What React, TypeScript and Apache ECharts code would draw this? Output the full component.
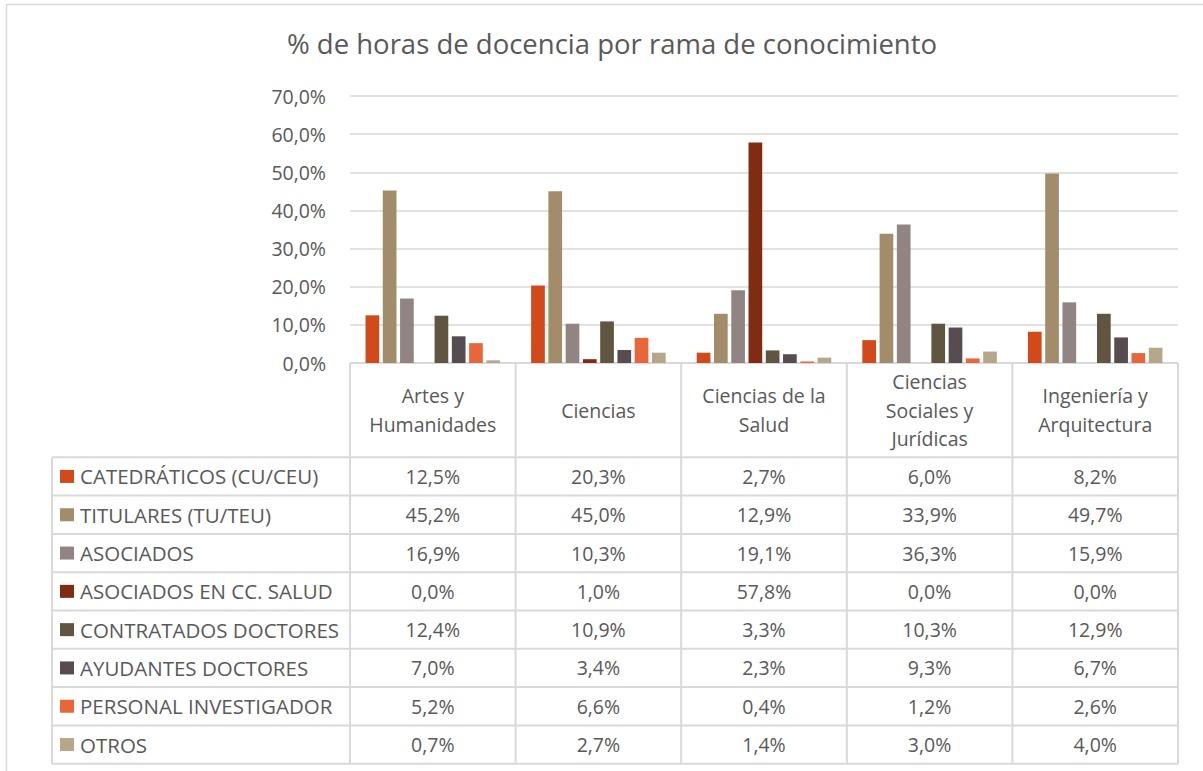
import React, { useEffect, useRef } from "react";
import * as echarts from "echarts";

const categories = [
  "Artes y\nHumanidades",
  "Ciencias",
  "Ciencias de la\nSalud",
  "Ciencias\nSociales y\nJurídicas",
  "Ingeniería y\nArquitectura",
];

const seriesNames = [
  "CATEDRÁTICOS (CU/CEU)",
  "TITULARES (TU/TEU)",
  "ASOCIADOS",
  "ASOCIADOS EN CC. SALUD",
  "CONTRATADOS DOCTORES",
  "AYUDANTES DOCTORES",
  "PERSONAL INVESTIGADOR",
  "OTROS",
];

const seriesColors = [
  "#D24A1A",
  "#A38C69",
  "#918584",
  "#7F2C12",
  "#5F5540",
  "#574C4F",
  "#E8673A",
  "#B5A78A",
];

const catedraticos = [12.5, 20.3, 2.7, 6.0, 8.2];
const titulares = [45.2, 45.0, 12.9, 33.9, 49.7];
const asociados = [16.9, 10.3, 19.1, 36.3, 15.9];
const asociadosSalud = [0.0, 1.0, 57.8, 0.0, 0.0];
const contratados = [12.4, 10.9, 3.3, 10.3, 12.9];
const ayudantes = [7.0, 3.4, 2.3, 9.3, 6.7];
const investigador = [5.2, 6.6, 0.4, 1.2, 2.6];
const otros = [0.7, 2.7, 1.4, 3.0, 4.0];

const seriesValues = [
  catedraticos,
  titulares,
  asociados,
  asociadosSalud,
  contratados,
  ayudantes,
  investigador,
  otros,
];

const fmt = (v: number) => v.toFixed(1).replace(".", ",") + "%";

const FONT = "'Open Sans', sans-serif";
const TEXT = "#595959";
const LINE = "#D9D9D9";
const FS = 19.5;

export default function App() {
  const ref = useRef<HTMLDivElement>(null);

  useEffect(() => {
    document.body.style.margin = "0";
    const chart = echarts.init(ref.current!, null, { renderer: "svg" });

    const W = 1203;
    const H = 771;
    const plotL = 350;
    const plotR = 1178;
    const plotT = 96;
    const plotB = 363;
    const tableL = 52;
    const headerB = 457.3;
    const rowH = 38.3;
    const colW = (plotR - plotL) / categories.length;

    const graphics: any[] = [];
    graphics.push({
      type: "rect",
      shape: { x: 6.5, y: 4.5, width: 1400, height: 1000 },
      style: { fill: "none", stroke: LINE, lineWidth: 1.5 },
      silent: true,
    });
    for (let k = 0; k <= seriesNames.length; k++) {
      const y = headerB + rowH * k;
      graphics.push({
        type: "line",
        shape: { x1: tableL, y1: y, x2: plotR, y2: y },
        style: { stroke: LINE, lineWidth: 2 },
        silent: true,
      });
    }
    graphics.push({
      type: "line",
      shape: { x1: plotL, y1: plotB, x2: plotR, y2: plotB },
      style: { stroke: LINE, lineWidth: 2 },
      silent: true,
    });
    graphics.push({
      type: "line",
      shape: { x1: tableL, y1: headerB, x2: tableL, y2: headerB + rowH * seriesNames.length },
      style: { stroke: LINE, lineWidth: 2 },
      silent: true,
    });
    for (let k = 0; k <= categories.length; k++) {
      const x = plotL + colW * k;
      graphics.push({
        type: "line",
        shape: { x1: x, y1: plotB, x2: x, y2: headerB + rowH * seriesNames.length },
        style: { stroke: LINE, lineWidth: 2 },
        silent: true,
      });
    }
    seriesNames.forEach((name, i) => {
      const cy = headerB + rowH * i + rowH / 2;
      graphics.push({
        type: "rect",
        shape: { x: 60, y: cy - 6.5, width: 14, height: 13 },
        style: { fill: seriesColors[i] },
        silent: true,
      });
      graphics.push({
        type: "text",
        x: 80,
        y: cy,
        style: {
          text: name,
          fill: TEXT,
          font: `20.5px ${FONT}`,
          textAlign: "left",
          textVerticalAlign: "middle",
        },
        silent: true,
      });
      seriesValues[i].forEach((v, j) => {
        graphics.push({
          type: "text",
          x: plotL + colW * j + colW / 2,
          y: cy,
          style: {
            text: fmt(v),
            fill: TEXT,
            font: `${FS}px ${FONT}`,
            textAlign: "center",
            textVerticalAlign: "middle",
          },
          silent: true,
        });
      });
    });

    chart.setOption({
      animation: false,
      title: {
        text: "% de horas de docencia por rama de conocimiento",
        left: 607,
        top: 24,
        textAlign: "center",
        textStyle: {
          fontFamily: FONT,
          fontSize: 27.5,
          fontWeight: "normal",
          color: TEXT,
        },
      },
      grid: {
        left: plotL,
        right: W - plotR,
        top: plotT,
        bottom: H - plotB,
        outerBoundsMode: "none",
        containLabel: false,
      },
      xAxis: {
        type: "category",
        data: categories,
        axisLine: { show: false },
        axisTick: { show: false },
        axisLabel: {
          margin: 47,
          verticalAlign: "middle",
          lineHeight: 28.5,
          fontSize: FS,
          fontFamily: FONT,
          color: TEXT,
          interval: 0,
        },
      },
      yAxis: {
        type: "value",
        min: 0,
        max: 70,
        interval: 10,
        axisLine: { show: false },
        axisTick: { show: false },
        splitLine: { lineStyle: { color: LINE, width: 1.5 } },
        axisLabel: {
          margin: 24,
          fontSize: FS,
          fontFamily: FONT,
          color: TEXT,
          formatter: (v: number) => fmt(v),
        },
      },
      series: seriesNames.map((name, i) => ({
        name,
        type: "bar",
        data: seriesValues[i],
        barWidth: 13.7,
        barGap: "26%",
        itemStyle: { color: seriesColors[i] },
      })),
      graphic: graphics,
    });

    return () => chart.dispose();
  }, []);

  return <div ref={ref} style={{ width: 1203, height: 771 }} />;
}
